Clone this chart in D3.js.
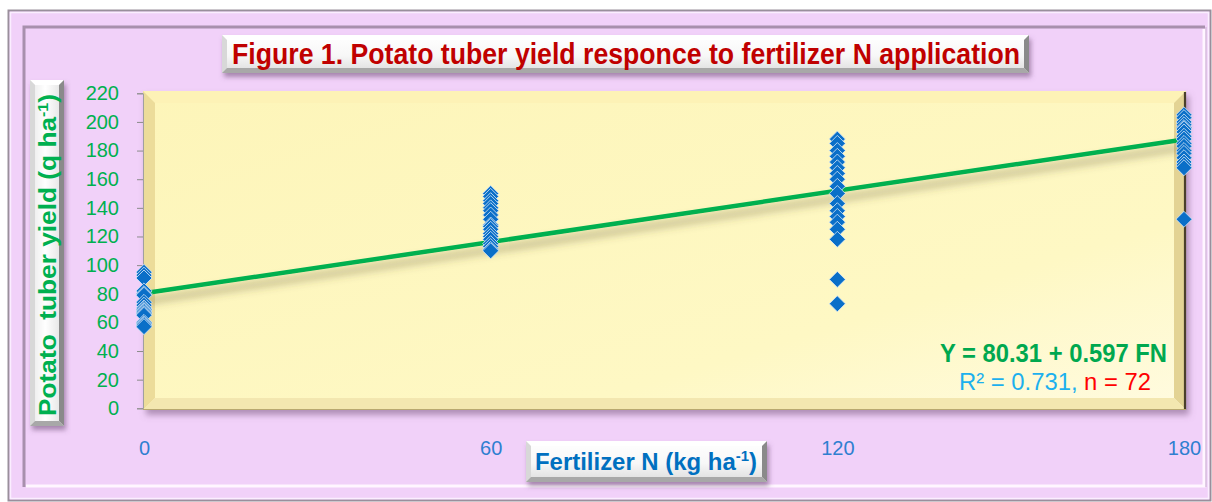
<!DOCTYPE html>
<html><head><meta charset="utf-8">
<script src="https://cdn.jsdelivr.net/npm/d3@7"></script>
<style>
html,body{margin:0;padding:0;background:#fff;}
svg{display:block;}
text{font-family:"Liberation Sans",Arial,sans-serif;}
</style></head>
<body><svg id="c" width="1212" height="502"></svg>
<script>
// ---- data ----
const nLevels = [0, 60, 120, 180];
const yield0   = [95, 93, 91, 82, 80, 79, 74, 72, 70, 69, 68, 67, 66, 65, 60, 59, 58, 57];
const yield60  = [150, 148, 145, 143, 140, 138, 135, 132, 128, 127, 125, 122, 120, 118, 115, 113, 111, 110];
const yield120 = [188, 185, 180, 176, 172, 168, 164, 160, 155, 150, 143, 138, 134, 130, 125, 118, 90, 73];
const yield180 = [205, 203, 200, 198, 196, 195, 193, 190, 188, 185, 183, 180, 178, 175, 172, 170, 168, 132];
const yTicks = [0, 20, 40, 60, 80, 100, 120, 140, 160, 180, 200, 220];
const xTicks = [0, 60, 120, 180];
const intercept = 80.31, slope = 0.597;
const titleText = "Figure 1. Potato tuber yield responce to fertilizer N application";

const points = [];
[yield0, yield60, yield120, yield180].forEach((arr, i) => arr.forEach(v => points.push({x: nLevels[i], y: v})));

const svg = d3.select("#c");
const defs = svg.append("defs");

// filters
const sh = defs.append("filter").attr("id","shadow").attr("x","-10%").attr("y","-10%").attr("width","130%").attr("height","140%");
sh.append("feDropShadow").attr("dx",3).attr("dy",5).attr("stdDeviation",3).attr("flood-color","#7a5a80").attr("flood-opacity",0.55);
const sh2 = defs.append("filter").attr("id","shadow2").attr("x","-10%").attr("y","-30%").attr("width","130%").attr("height","180%");
sh2.append("feDropShadow").attr("dx",2).attr("dy",4).attr("stdDeviation",2.5).attr("flood-color","#6a4a70").attr("flood-opacity",0.55);
const lsh = defs.append("filter").attr("id","lineshadow").attr("x","-5%").attr("y","-50%").attr("width","110%").attr("height","300%");
lsh.append("feDropShadow").attr("dx",0).attr("dy",8).attr("stdDeviation",4).attr("flood-color","#5a5030").attr("flood-opacity",0.5);

// gradients
const gBtn = defs.append("linearGradient").attr("id","btn").attr("x1",0).attr("y1",0).attr("x2",0).attr("y2",1);
gBtn.append("stop").attr("offset","0%").attr("stop-color","#ffffff");
gBtn.append("stop").attr("offset","55%").attr("stop-color","#f7f7f7");
gBtn.append("stop").attr("offset","100%").attr("stop-color","#dcdcdc");
const gBtnV = defs.append("linearGradient").attr("id","btnv").attr("x1",0).attr("y1",0).attr("x2",1).attr("y2",0);
gBtnV.append("stop").attr("offset","0%").attr("stop-color","#e8e8e8");
gBtnV.append("stop").attr("offset","45%").attr("stop-color","#ffffff");
gBtnV.append("stop").attr("offset","100%").attr("stop-color","#e0e0e0");
const gY = defs.append("linearGradient").attr("id","yface").attr("x1",0).attr("y1",0).attr("x2",1).attr("y2",1);
gY.append("stop").attr("offset","0%").attr("stop-color","#fdf5b9");
gY.append("stop").attr("offset","70%").attr("stop-color","#fef8c4");
gY.append("stop").attr("offset","100%").attr("stop-color","#fffbe0");

// ---- outer frame ----
svg.append("rect").attr("x",8.5).attr("y",10.5).attr("width",1202).attr("height",490)
  .attr("fill","#f1d1f9").attr("stroke","#9a8f9c").attr("stroke-width",2);
svg.append("rect").attr("x",10.5).attr("y",12.5).attr("width",1198).attr("height",486)
  .attr("fill","none").attr("stroke","#fbeeff").attr("stroke-width",1.5);
svg.append("path").attr("d","M24,487 L24,27 L1205,27").attr("fill","none").attr("stroke","#a890ad").attr("stroke-width",3);
svg.append("path").attr("d","M26,486 L1204,486 L1204,29").attr("fill","none").attr("stroke","#fff6ff").attr("stroke-width",3);
svg.append("path").attr("d","M1206,487 L1206,27").attr("fill","none").attr("stroke","#c9b3cf").attr("stroke-width",1);

// ---- bevel box helper ----
function bevelBox(x0,y0,w,h,b,cols,faceFill,filter){
  const g = svg.append("g");
  if(filter) g.attr("filter",filter);
  const x1=x0+w, y1=y0+h;
  g.append("rect").attr("x",x0).attr("y",y0).attr("width",w).attr("height",h).attr("fill",faceFill);
  g.append("polygon").attr("points",`${x0},${y0} ${x1},${y0} ${x1-b},${y0+b} ${x0+b},${y0+b}`).attr("fill",cols[0]);
  g.append("polygon").attr("points",`${x0},${y0} ${x0+b},${y0+b} ${x0+b},${y1-b} ${x0},${y1}`).attr("fill",cols[1]);
  g.append("polygon").attr("points",`${x1},${y0} ${x1},${y1} ${x1-b},${y1-b} ${x1-b},${y0+b}`).attr("fill",cols[2]);
  g.append("polygon").attr("points",`${x0},${y1} ${x1},${y1} ${x1-b},${y1-b} ${x0+b},${y1-b}`).attr("fill",cols[3]);
  return g;
}

// ---- scales ----
const x = d3.scaleLinear().domain([0,180]).range([144,1184]);
const y = d3.scaleLinear().domain([0,220]).range([408.3,93.3]);

// plot area (yellow bevel)
bevelBox(143, 91, 1043, 319, 12,
  ["#fdf2b6","#ecdc9a","#e3d394","#f3e7b0"], "url(#yface)", "url(#shadow)");
svg.append("line").attr("x1",1185).attr("x2",1185).attr("y1",92).attr("y2",410).attr("stroke","#4a3f2a").attr("stroke-width",2.2);
svg.append("line").attr("x1",143).attr("x2",1186).attr("y1",409.5).attr("y2",409.5).attr("stroke","#b8a870").attr("stroke-width",1);

// ---- y axis ----
const yAxis = svg.append("g").attr("transform","translate(143,0)")
  .call(d3.axisLeft(y).tickValues(yTicks).tickSize(6).tickPadding(18).tickFormat(d3.format("d")));
yAxis.select(".domain").attr("stroke","#a0a0a0");
yAxis.selectAll(".tick line").attr("stroke","#8c8c8c");
yAxis.selectAll(".tick text").attr("fill","#00b050").attr("font-size","20px")
  .attr("font-family","'Liberation Sans',Arial,sans-serif");

// ---- x axis labels ----
const xAxis = svg.append("g").attr("transform","translate(0,408)")
  .call(d3.axisBottom(x).tickValues(xTicks).tickSize(0).tickPadding(33).tickFormat(d3.format("d")));
xAxis.select(".domain").remove();
xAxis.selectAll(".tick text").attr("fill","#2f7fd0").attr("font-size","20px")
  .attr("font-family","'Liberation Sans',Arial,sans-serif");

// ---- regression line ----
svg.append("line")
  .attr("x1",x(0)).attr("y1",y(intercept))
  .attr("x2",x(180)).attr("y2",y(intercept+slope*180))
  .attr("stroke","#00b050").attr("stroke-width",4.5).attr("stroke-linecap","butt")
  .attr("filter","url(#lineshadow)");

// ---- points ----
const sym = d3.symbol().type(d3.symbolSquare).size(128);
svg.append("g").selectAll("path").data(points).join("path")
  .attr("d",sym)
  .attr("transform",d=>`translate(${x(d.x)},${y(d.y)}) rotate(45)`)
  .attr("fill","#0a6fc8").attr("stroke","#d8e8f8").attr("stroke-width",0.9).attr("stroke-opacity",0.85);

// ---- title box ----
bevelBox(222, 35, 807, 38, 5, ["#ffffff","#d8d8d8","#8a8a8a","#a8a8a8"], "url(#btn)", "url(#shadow2)");
svg.append("text").attr("x",232).attr("y",63.5)
  .attr("textLength",788).attr("lengthAdjust","spacingAndGlyphs")
  .attr("font-family","'Liberation Sans Narrow','Arial Narrow',Arial,sans-serif")
  .attr("font-weight","bold").attr("font-size","29px").attr("fill","#c00000")
  .text(titleText);

// ---- y label box ----
bevelBox(30, 80, 34, 346, 5, ["#ffffff","#d8d8d8","#8a8a8a","#a8a8a8"], "url(#btnv)", "url(#shadow2)");
const yl = svg.append("text").attr("transform","translate(56,416) rotate(-90)")
  .attr("font-weight","bold").attr("font-size","23px").attr("fill","#00b050")
  .attr("font-family","'Liberation Sans Narrow','Arial Narrow',Arial,sans-serif")
  .attr("textLength",322).attr("lengthAdjust","spacingAndGlyphs")
  .style("white-space","pre");
yl.append("tspan").text("Potato  tuber yield (q ha");
yl.append("tspan").attr("dy",-8).attr("font-size","14px").text("-1");
yl.append("tspan").attr("dy",8).text(")");

// ---- x label box ----
bevelBox(526, 441, 241, 41, 5, ["#ffffff","#d8d8d8","#8a8a8a","#a8a8a8"], "url(#btn)", "url(#shadow2)");
const xl = svg.append("text").attr("x",535).attr("y",470)
  .attr("font-weight","bold").attr("font-size","24px").attr("fill","#0070c0")
  .attr("font-family","'Liberation Sans Narrow','Arial Narrow',Arial,sans-serif")
  .attr("textLength",222).attr("lengthAdjust","spacingAndGlyphs");
xl.append("tspan").text("Fertilizer N (kg ha");
xl.append("tspan").attr("dy",-9).attr("font-size","15px").text("-1");
xl.append("tspan").attr("dy",9).text(")");

// ---- equation ----
svg.append("text").attr("x",1167).attr("y",362).attr("text-anchor","end")
  .attr("font-weight","bold").attr("font-size","25px").attr("fill","#00a84f")
  .attr("font-family","'Liberation Sans Narrow','Arial Narrow',Arial,sans-serif")
  .attr("textLength",227).attr("lengthAdjust","spacingAndGlyphs")
  .text(`Y = ${intercept} + ${slope} FN`);
const r2 = svg.append("text").attr("x",1151).attr("y",390).attr("text-anchor","end")
  .attr("font-size","24px")
  .attr("textLength",192).attr("lengthAdjust","spacingAndGlyphs");
r2.append("tspan").attr("fill","#1cb0ee").text("R² = 0.731,");
r2.append("tspan").attr("fill","#ff0000").text(" n = 72");
</script></body></html>
